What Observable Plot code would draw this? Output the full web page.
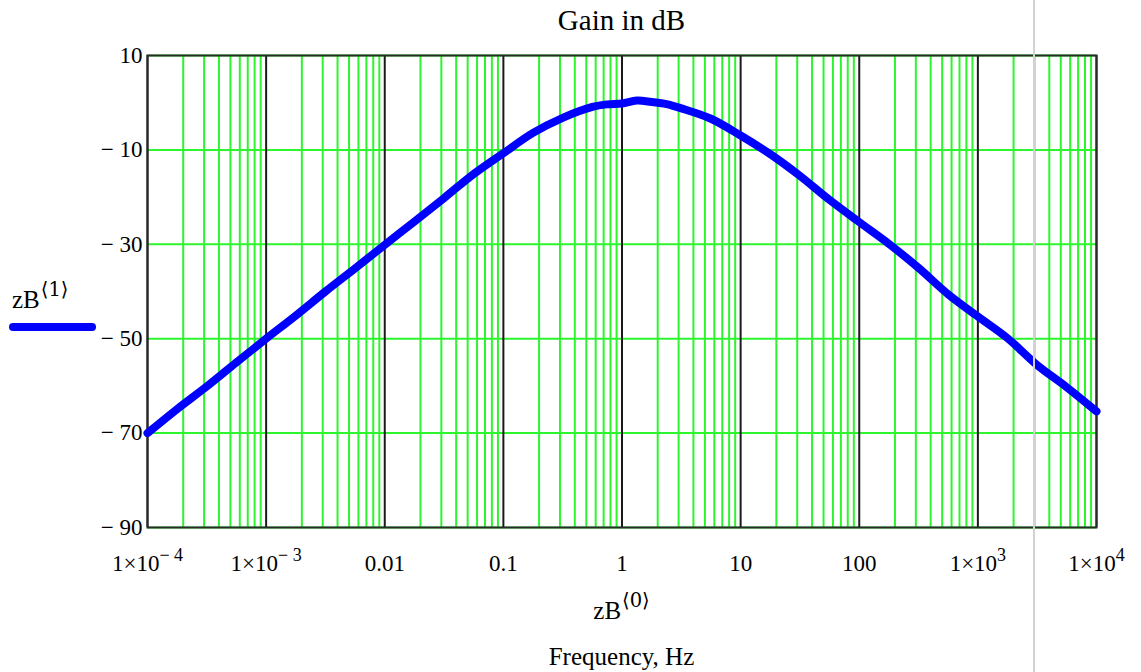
<!DOCTYPE html>
<html>
<head>
<meta charset="utf-8">
<script src="https://cdn.jsdelivr.net/npm/d3@7"></script>
<script src="https://cdn.jsdelivr.net/npm/@observablehq/plot@0.6"></script>
<style>
  html, body { margin: 0; padding: 0; background: #fff; }
  #wrap { position: relative; width: 1141px; height: 672px; overflow: hidden;
          font-family: "Liberation Serif", "Times New Roman", "DejaVu Serif", serif; color: #000; }
  #wrap svg { position: absolute; left: 0; top: 0; }
  .lbl { position: absolute; white-space: nowrap; line-height: 1; }
  .sup { font-size: 78%; position: relative; top: -0.62em; margin-left: 1px;
         font-family: "DejaVu Serif", "Liberation Serif", serif; }
  #title { left: 0; width: 1243px; text-align: center; top: 6px; font-size: 29px; }
  #xlab { left: 0; width: 1243px; text-align: center; top: 598px; font-size: 25px; }
  #xname { left: 0; width: 1243px; text-align: center; top: 644px; font-size: 25px; }
  #ylab { left: 12px; top: 287px; font-size: 25px; }
  #swatch { position: absolute; left: 9px; top: 323px; width: 87px; height: 8px;
            border-radius: 4px; background: #0000ff; }
  #sep { position: absolute; left: 1033px; top: 0; width: 2px; height: 672px; background: #d2d2d2; }
</style>
</head>
<body>
<div id="wrap">
  <div id="sep"></div>
  <div class="lbl" id="title">Gain in dB</div>
  <div class="lbl" id="ylab">zB<span class="sup">⟨1⟩</span></div>
  <div id="swatch"></div>
  <div class="lbl" id="xlab">zB<span class="sup">⟨0⟩</span></div>
  <div class="lbl" id="xname">Frequency, Hz</div>
</div>
<script>
// Frequency response: gain (dB) versus frequency (Hz)
const freqHz = [
  1e-4, 1.778e-4, 3.162e-4, 5.623e-4,
  1e-3, 1.778e-3, 3.162e-3, 5.623e-3,
  1e-2, 1.778e-2, 3.162e-2, 5.623e-2,
  0.1, 0.1778, 0.3162, 0.5623, 0.75,
  1, 1.334, 1.778, 2.371, 3.162, 5.623,
  10, 17.78, 31.62, 56.23,
  100, 177.8, 316.2, 562.3,
  1000, 1778, 3162, 5623,
  10000
];
const gainDb = [
  -70.0, -64.9, -60.1, -55.0,
  -50.0, -45.1, -40.0, -35.1,
  -30.1, -25.2, -20.2, -15.1,
  -10.7, -6.4, -3.2, -0.9, -0.35,
  -0.15, 0.45, 0.15, -0.3, -1.2, -3.4,
  -6.95, -10.9, -15.5, -20.6,
  -25.3, -29.9, -35.0, -40.6,
  -45.3, -49.9, -55.6, -60.3,
  -65.4
];

// Axis ticks and their labels ("^" marks an exponent)
const decades = [1e-4, 1e-3, 1e-2, 1e-1, 1, 10, 100, 1e3, 1e4];
const decadeLabels = ["1×10^\u2212 4", "1×10^\u2212 3", "0.01", "0.1", "1", "10", "100", "1×10^3", "1×10^4"];
const gainTicks = [10, -10, -30, -50, -70, -90];

// Minor log grid: 2..9 within every decade
const minorTicks = [];
for (let e = -4; e < 4; e++) for (let k = 2; k <= 9; k++) minorTicks.push(+(k * Math.pow(10, e)).toPrecision(6));

const points = freqHz.map((f, i) => ({f, g: gainDb[i]}));
const fmtX = d => decadeLabels[Math.round(Math.log10(d)) + 4];
const fmtY = d => d < 0 ? "\u2212 " + Math.abs(d) : String(d);

const green = "#2df52d";

const chart = Plot.plot({
  width: 1141,
  height: 672,
  marginLeft: 147,
  marginRight: 45,
  marginTop: 55,
  marginBottom: 145,
  style: {fontFamily: '"Liberation Serif", "Times New Roman", serif', fontSize: "23px", color: "#000", background: "transparent", overflow: "visible"},
  x: {type: "log", domain: [1e-4, 1e4]},
  y: {domain: [-90, 10]},
  marks: [
    Plot.ruleX(minorTicks, {stroke: green, strokeWidth: 2}),
    Plot.ruleY(gainTicks, {stroke: green, strokeWidth: 2}),
    Plot.ruleX(decades, {stroke: "#1a1a1a", strokeWidth: 2}),
    Plot.frame({stroke: "#2a2a2a", strokeWidth: 2}),
    Plot.axisX({ticks: decades, tickFormat: fmtX, tickSize: 0, tickPadding: 27, label: null}),
    Plot.axisY({ticks: gainTicks, tickFormat: fmtY, tickSize: 0, tickPadding: 5, label: null}),
    Plot.line(points, {x: "f", y: "g", stroke: "#0000ff", strokeWidth: 8, curve: "catmull-rom", strokeLinecap: "round", strokeLinejoin: "round"})
  ]
});

// Render "a^b" tick labels as a base with a raised exponent
chart.querySelectorAll("text").forEach(t => {
  const s = t.textContent;
  if (!s.includes("^")) return;
  const [base, exp] = s.split("^");
  t.textContent = "";
  const ns = "http://www.w3.org/2000/svg";
  const a = document.createElementNS(ns, "tspan");
  a.textContent = base;
  const b = document.createElementNS(ns, "tspan");
  b.textContent = exp;
  b.setAttribute("dy", "-0.55em");
  b.setAttribute("font-size", "18px");
  t.append(a, b);
});

document.getElementById("wrap").prepend(chart);
</script>
</body>
</html>
